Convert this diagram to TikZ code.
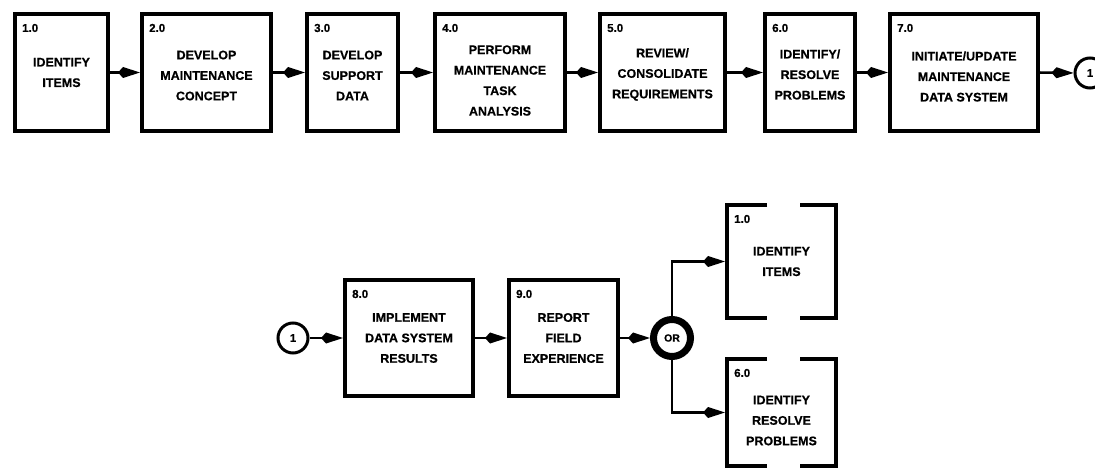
\documentclass[tikz,border=0pt]{standalone}
\usepackage{fontspec}
\setmainfont{Liberation Sans}[BoldFeatures={FakeBold=0.6}]
\usetikzlibrary{arrows.meta,calc}
\begin{document}
\begin{tikzpicture}[x=1pt,y=-1pt,
  box/.style={draw, line width=4pt, inner sep=0pt, minimum height=117pt},
  lowbox/.style={draw, line width=4pt, inner sep=0pt, minimum height=116pt},
  refbox/.style={inner sep=0pt, outer sep=0pt},
  bracket/.style={line width=4pt},
  txt/.style={align=center, font=\bfseries\fontsize{12.5}{20.5}\selectfont, inner sep=0pt},
  num/.style={anchor=west, font=\bfseries\fontsize{11.5}{11}\selectfont, inner sep=0pt},
  flow/.style={line width=2.5pt, -{Kite[length=22pt,width=11pt,inset=5pt]}},
  conn/.style={draw, circle, line width=3pt, minimum size=30pt, inner sep=0pt, font=\bfseries\fontsize{11}{11}\selectfont},
  orc/.style={draw, circle, line width=7pt, minimum size=37pt, inner sep=0pt, font=\bfseries\fontsize{10.5}{10}\selectfont},
]
\useasboundingbox (0,0) rectangle (1095,470);

% top row
\node[box, minimum width=93pt]  (b1) at (61.5,72.5) {};
\node[box, minimum width=129pt] (b2) at (206.5,72.5) {};
\node[box, minimum width=91pt]  (b3) at (352.5,72.5) {};
\node[box, minimum width=130pt] (b4) at (500,72.5) {};
\node[box, minimum width=125pt] (b5) at (662.5,72.5) {};
\node[box, minimum width=90pt]  (b6) at (810,72.5) {};
\node[box, minimum width=148pt] (b7) at (964,72.5) {};
\node[conn] (c1) at (1090,73) {1};

\node[txt] (t1) at ($(b1.center)+(0,0)$) {IDENTIFY\\ITEMS};
\node[txt] (t2) at ($(b2.center)+(0,3)$) {DEVELOP\\MAINTENANCE\\CONCEPT};
\node[txt] (t3) at ($(b3.center)+(0,3)$) {DEVELOP\\SUPPORT\\DATA};
\node[txt] (t4) at ($(b4.center)+(0,8)$) {PERFORM\\MAINTENANCE\\TASK\\ANALYSIS};
\node[txt] (t5) at ($(b5.center)+(0,2)$) {REVIEW/\\CONSOLIDATE\\REQUIREMENTS};
\node[txt] (t6) at ($(b6.center)+(0,2)$) {IDENTIFY/\\RESOLVE\\PROBLEMS};
\node[txt] (t7) at ($(b7.center)+(0,4)$) {INITIATE/UPDATE\\MAINTENANCE\\DATA SYSTEM};

\node[num] (n1) at ($(b1.north west)+(9,16)$) {1.0};
\node[num] (n2) at ($(b2.north west)+(9,16)$) {2.0};
\node[num] (n3) at ($(b3.north west)+(9,16)$) {3.0};
\node[num] (n4) at ($(b4.north west)+(9,16)$) {4.0};
\node[num] (n5) at ($(b5.north west)+(9,16)$) {5.0};
\node[num] (n6) at ($(b6.north west)+(9,16)$) {6.0};
\node[num] (n7) at ($(b7.north west)+(9,16)$) {7.0};

\draw[flow] (b1.east) -- (b2.west);
\draw[flow] (b2.east) -- (b3.west);
\draw[flow] (b3.east) -- (b4.west);
\draw[flow] (b4.east) -- (b5.west);
\draw[flow] (b5.east) -- (b6.west);
\draw[flow] (b6.east) -- (b7.west);
\draw[flow] (b7.east) -- (c1.west);

% bottom row
\node[conn] (c2) at (293,338) {1};
\node[lowbox, minimum width=128pt] (b8) at (409,338) {};
\node[lowbox, minimum width=109pt] (b9) at (563.5,338) {};
\node[orc] (or) at (672,338) {OR};
\node[refbox, minimum width=109pt, minimum height=113pt] (r1) at (781.5,261.5) {};
\node[refbox, minimum width=109pt, minimum height=107pt] (r6) at (781.5,412.5) {};

\node[txt] (t8) at (b8.center) {IMPLEMENT\\DATA SYSTEM\\RESULTS};
\node[txt] (t9) at (b9.center) {REPORT\\FIELD\\EXPERIENCE};
\node[txt] (tr1) at ($(r1.center)+(0,0)$) {IDENTIFY\\ITEMS};
\node[txt] (tr6) at ($(r6.center)+(0,8)$) {IDENTIFY\\RESOLVE\\PROBLEMS};

\node[num] (n8) at ($(b8.north west)+(9,16)$) {8.0};
\node[num] (n9) at ($(b9.north west)+(9,16)$) {9.0};
\node[num] (nr1) at ($(r1.north west)+(7,14)$) {1.0};
\node[num] (nr6) at ($(r6.north west)+(7,14)$) {6.0};

\draw[bracket] ($(r1.north west)+(40,0)$) -| (r1.south west) -- ++(40,0);
\draw[bracket] ($(r1.north east)+(-36,0)$) -| (r1.south east) -- ++(-36,0);
\draw[bracket] ($(r6.north west)+(40,0)$) -| (r6.south west) -- ++(40,0);
\draw[bracket] ($(r6.north east)+(-36,0)$) -| (r6.south east) -- ++(-36,0);

\draw[flow] (c2.east) -- (b8.west);
\draw[flow] (b8.east) -- (b9.west);
\draw[flow] (b9.east) -- (or.west);
\draw[flow, shorten >=2pt] (or.north) |- (r1.west);
\draw[flow, shorten >=2pt] (or.south) |- (r6.west);
\end{tikzpicture}
\end{document}
